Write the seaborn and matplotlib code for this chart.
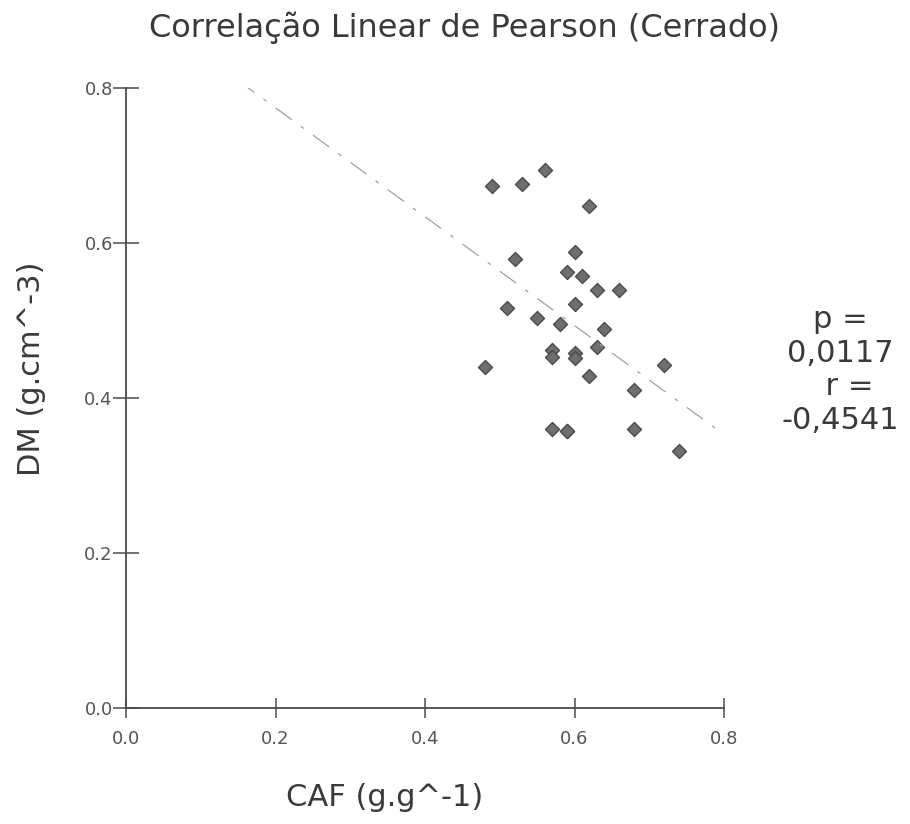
import numpy as np
import pandas as pd
import matplotlib
matplotlib.use("Agg")
import matplotlib.pyplot as plt
import seaborn as sns

caf = [0.49, 0.53, 0.56, 0.62, 0.60, 0.52, 0.59, 0.61, 0.63, 0.66,
       0.60, 0.51, 0.55, 0.58, 0.64, 0.63, 0.57, 0.57, 0.60, 0.60,
       0.48, 0.72, 0.62, 0.68, 0.57, 0.59, 0.59, 0.68, 0.74]
dm = [0.674, 0.676, 0.694, 0.648, 0.588, 0.579, 0.562, 0.557, 0.539, 0.539,
      0.521, 0.516, 0.503, 0.495, 0.489, 0.466, 0.462, 0.453, 0.458, 0.451,
      0.440, 0.443, 0.428, 0.410, 0.360, 0.357, 0.358, 0.360, 0.332]
ticks = [0.0, 0.2, 0.4, 0.6, 0.8]
title = "Correlação Linear de Pearson (Cerrado)"
xlabel = "CAF (g.g^-1)"
ylabel = "DM (g.cm^-3)"
stats_text = "p =\n0,0117\n  r =\n-0,4541"

df = pd.DataFrame({"CAF": caf, "DM": dm})

sns.set_theme(style="white")
plt.rcParams['font.family'] = ['DejaVu Sans']

fig = plt.figure(figsize=(9.1, 8.24), dpi=100)
ax = fig.add_axes([126/910, 1-708/824, (724-126)/910, (708-88)/824])
ax.set_xlim(0, 0.8)
ax.set_ylim(0, 0.8)

sns.regplot(data=df, x="CAF", y="DM", ax=ax, ci=None, truncate=False, marker="D",
            scatter_kws=dict(s=52, color="#6e6e6e",
                             edgecolors="#474747", linewidths=0.9, alpha=1),
            line_kws=dict(color="#a0a0a0", lw=0.9, dashes=(16, 9, 3, 9)))

ax.set_xlim(0, 0.8)
ax.set_ylim(0, 0.8)
ax.set_xticks(ticks)
ax.set_yticks(ticks)
ax.set_xticklabels([f"{t:.1f}" for t in ticks])
ax.set_yticklabels([f"{t:.1f}" for t in ticks])
for s in ["top", "right"]:
    ax.spines[s].set_visible(False)
for s in ["left", "bottom"]:
    ax.spines[s].set_color("#4a4a4a")
    ax.spines[s].set_linewidth(1.3)
ax.tick_params(axis="y", direction="inout", length=19, width=1.1, color="#4a4a4a",
               labelsize=13, labelcolor="#555555", pad=0, left=True)
ax.tick_params(axis="x", direction="inout", length=15, width=1.1, color="#4a4a4a",
               labelsize=13, labelcolor="#555555", pad=8, bottom=True)

ax.set_xlabel(xlabel, fontsize=22, color="#3a3a3a")
ax.set_ylabel(ylabel, fontsize=22, color="#3a3a3a")
ax.xaxis.set_label_coords((385-126)/598, -(798-708)/620)
ax.yaxis.set_label_coords(-(126-32)/598, (708-369)/620)
ax.xaxis.label.set_va("center")
ax.yaxis.label.set_va("center")
fig.text(465/910, 1-28/824, title, ha="center", va="center", fontsize=23, color="#3a3a3a")
fig.text(840/910, 1-370/824, stats_text, ha="center", va="center", fontsize=22,
         color="#3a3a3a", linespacing=1.2)

fig.savefig("out.png", dpi=100, facecolor="white")
